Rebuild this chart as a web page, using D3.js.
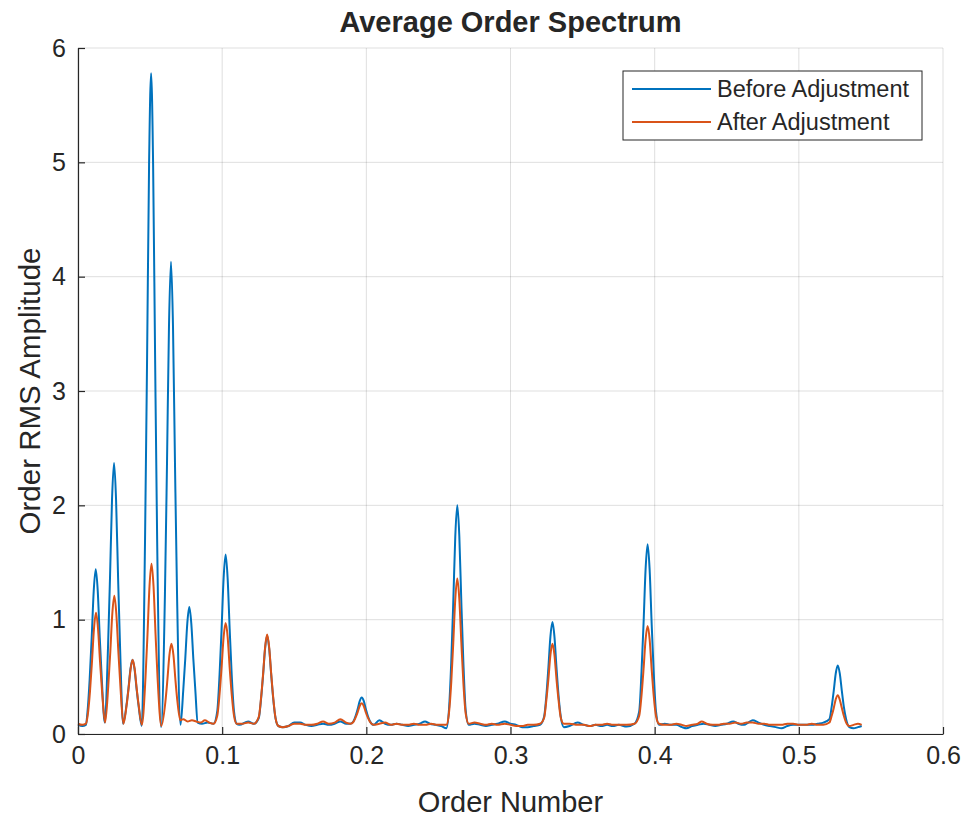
<!DOCTYPE html>
<html>
<head>
<meta charset="utf-8">
<script src="https://cdn.jsdelivr.net/npm/d3@7"></script>
<style>
  html, body { margin: 0; padding: 0; background: #ffffff; }
  svg { display: block; }
  text { font-family: "Liberation Sans", Arial, Helvetica, sans-serif; fill: #262626; }
</style>
</head>
<body>
<svg id="chart" width="966" height="817"></svg>
<script>
const titleText = "Average Order Spectrum";
const xLabelText = "Order Number";
const yLabelText = "Order RMS Amplitude";
const seriesNames = ["Before Adjustment", "After Adjustment"];
const xTicks = [0, 0.1, 0.2, 0.3, 0.4, 0.5, 0.6];
const yTicks = [0, 1, 2, 3, 4, 5, 6];

const beforeAdj = [
  [0,0.08],[0.003,0.07],[0.0055,0.08],
  [0.0065,0.18],[0.0081,0.48],[0.0095,0.842],[0.0109,1.25],[0.0123,1.44],[0.0137,1.25],[0.0151,0.842],[0.0165,0.48],[0.0186,0.10],
  [0.0208,0.75],[0.0222,1.367],[0.0236,2.051],[0.0250,2.37],[0.0264,2.05],[0.0278,1.37],[0.0292,0.75],[0.0313,0.09],
  [0.0336,0.25],[0.0350,0.40],[0.0364,0.57],[0.0378,0.65],[0.0392,0.57],[0.0406,0.40],[0.0420,0.25],[0.0442,0.07],
  [0.0465,1.70],[0.0479,3.268],[0.0493,4.98],[0.0507,5.78],[0.0521,4.98],[0.0535,3.27],[0.0549,1.70],[0.0576,0.06],
  [0.0603,1.22],[0.0617,2.339],[0.0631,3.56],[0.0645,4.13],[0.0659,3.56],[0.0673,2.34],[0.0687,1.22],[0.0711,0.08],
  [0.0730,0.38],[0.0744,0.657],[0.0758,0.966],[0.0772,1.11],[0.0786,0.966],[0.0800,0.657],[0.0814,0.38],[0.0830,0.10],
  [0.086,0.09],[0.090,0.10],[0.094,0.09],
  [0.0966,0.20],[0.0982,0.52],[0.0996,0.919],[0.1010,1.363],[0.1024,1.57],[0.1038,1.36],[0.1052,0.92],[0.1066,0.52],[0.1082,0.20],[0.1100,0.09],
  [0.112,0.08],[0.118,0.11],[0.122,0.09],
  [0.1254,0.14],[0.1270,0.31],[0.1284,0.517],[0.1298,0.751],[0.1312,0.86],[0.1326,0.75],[0.1340,0.52],[0.1354,0.31],[0.1370,0.14],[0.1390,0.07],
  [0.142,0.06],[0.146,0.07],[0.150,0.10],[0.154,0.10],[0.158,0.08],[0.162,0.07],[0.166,0.08],[0.170,0.09],[0.174,0.08],[0.178,0.09],[0.182,0.11],[0.186,0.09],[0.189,0.09],
  [0.1910,0.11],[0.1926,0.16],[0.1940,0.219],[0.1954,0.288],[0.1968,0.32],[0.1982,0.29],[0.1996,0.22],[0.2010,0.16],[0.2026,0.11],[0.205,0.08],
  [0.209,0.12],[0.213,0.09],[0.217,0.08],[0.221,0.09],[0.225,0.08],[0.229,0.07],[0.233,0.08],[0.237,0.09],[0.2407,0.11],[0.244,0.09],[0.248,0.08],[0.252,0.07],[0.2555,0.05],
  [0.2573,0.21],[0.2589,0.63],[0.2603,1.151],[0.2617,1.73],[0.2631,2.0],[0.2645,1.73],[0.2659,1.15],[0.2673,0.63],[0.2689,0.21],[0.271,0.08],
  [0.275,0.09],[0.279,0.08],[0.283,0.07],[0.287,0.08],[0.291,0.09],[0.296,0.11],[0.300,0.09],[0.304,0.08],[0.308,0.06],[0.312,0.06],[0.316,0.07],[0.3205,0.08],
  [0.3233,0.15],[0.3249,0.34],[0.3263,0.584],[0.3277,0.854],[0.3291,0.98],[0.3305,0.85],[0.3319,0.58],[0.3333,0.34],[0.3349,0.15],[0.337,0.06],
  [0.341,0.07],[0.3465,0.10],[0.351,0.08],[0.355,0.07],[0.359,0.08],[0.363,0.07],[0.367,0.08],[0.371,0.07],[0.375,0.08],[0.3806,0.065],[0.386,0.09],
  [0.3893,0.20],[0.3909,0.55],[0.3923,0.969],[0.3937,1.44],[0.3951,1.66],[0.3965,1.44],[0.3979,0.97],[0.3993,0.55],[0.4009,0.20],[0.403,0.08],
  [0.407,0.09],[0.411,0.08],[0.415,0.08],[0.419,0.06],[0.422,0.05],[0.426,0.07],[0.430,0.08],[0.434,0.09],[0.438,0.08],[0.442,0.07],[0.446,0.08],[0.450,0.09],[0.4545,0.11],[0.458,0.09],[0.462,0.08],[0.465,0.10],[0.468,0.12],[0.472,0.10],[0.476,0.08],[0.480,0.07],[0.484,0.06],[0.488,0.05],[0.492,0.07],[0.496,0.08],[0.5008,0.08],[0.505,0.08],[0.509,0.08],[0.513,0.09],[0.517,0.10],
  [0.5212,0.13],[0.5228,0.24],[0.5242,0.376],[0.5256,0.529],[0.5270,0.60],[0.5284,0.53],[0.5298,0.38],[0.5312,0.24],[0.5328,0.13],[0.535,0.06],
  [0.538,0.05],[0.541,0.06],[0.5436,0.07]
];

const afterAdj = [
  [0,0.09],[0.003,0.08],[0.0055,0.09],
  [0.0067,0.16],[0.0083,0.37],[0.0097,0.633],[0.0111,0.924],[0.0125,1.06],[0.0139,0.92],[0.0153,0.63],[0.0167,0.37],[0.0188,0.10],
  [0.0210,0.42],[0.0224,0.717],[0.0238,1.053],[0.0252,1.21],[0.0266,1.05],[0.0280,0.72],[0.0294,0.42],[0.0315,0.09],
  [0.0337,0.25],[0.0351,0.40],[0.0365,0.57],[0.0379,0.65],[0.0393,0.57],[0.0407,0.40],[0.0421,0.25],[0.0443,0.08],
  [0.0468,0.49],[0.0482,0.870],[0.0496,1.293],[0.0510,1.49],[0.0524,1.29],[0.0538,0.87],[0.0552,0.49],[0.0578,0.07],
  [0.0606,0.28],[0.0620,0.473],[0.0634,0.689],[0.0648,0.79],[0.0662,0.69],[0.0676,0.47],[0.0690,0.28],[0.0710,0.12],
  [0.073,0.13],[0.076,0.11],[0.079,0.12],[0.082,0.11],[0.085,0.10],[0.088,0.12],[0.091,0.10],[0.094,0.09],
  [0.0966,0.16],[0.0982,0.35],[0.0996,0.583],[0.1010,0.847],[0.1024,0.97],[0.1038,0.85],[0.1052,0.58],[0.1066,0.35],[0.1082,0.16],[0.1100,0.09],
  [0.114,0.09],[0.118,0.10],[0.122,0.09],
  [0.1254,0.15],[0.1270,0.32],[0.1284,0.527],[0.1298,0.761],[0.1312,0.87],[0.1326,0.76],[0.1340,0.53],[0.1354,0.32],[0.1370,0.14],[0.1390,0.07],
  [0.142,0.06],[0.146,0.07],[0.150,0.09],[0.154,0.09],[0.158,0.08],[0.162,0.08],[0.166,0.09],[0.170,0.11],[0.174,0.09],[0.178,0.10],[0.182,0.13],[0.186,0.10],[0.189,0.09],
  [0.1910,0.105],[0.1926,0.145],[0.1940,0.191],[0.1954,0.245],[0.1968,0.27],[0.1982,0.245],[0.1996,0.19],[0.2010,0.145],[0.2026,0.105],[0.205,0.08],
  [0.209,0.09],[0.213,0.10],[0.217,0.08],[0.221,0.09],[0.225,0.08],[0.229,0.08],[0.233,0.09],[0.237,0.08],[0.241,0.08],[0.245,0.09],[0.249,0.08],[0.253,0.08],[0.2555,0.08],
  [0.2573,0.18],[0.2589,0.45],[0.2603,0.797],[0.2617,1.181],[0.2631,1.36],[0.2645,1.18],[0.2659,0.80],[0.2673,0.45],[0.2689,0.18],[0.271,0.09],
  [0.275,0.10],[0.279,0.09],[0.283,0.08],[0.287,0.09],[0.291,0.08],[0.296,0.09],[0.300,0.08],[0.304,0.07],[0.308,0.07],[0.312,0.08],[0.316,0.08],[0.3205,0.09],
  [0.3233,0.14],[0.3249,0.30],[0.3263,0.482],[0.3277,0.692],[0.3291,0.79],[0.3305,0.69],[0.3319,0.48],[0.3333,0.30],[0.3349,0.14],[0.337,0.09],
  [0.341,0.09],[0.3465,0.08],[0.351,0.08],[0.355,0.07],[0.359,0.08],[0.363,0.08],[0.367,0.09],[0.371,0.08],[0.375,0.08],[0.3806,0.08],[0.386,0.09],
  [0.3893,0.16],[0.3909,0.34],[0.3923,0.569],[0.3937,0.825],[0.3951,0.945],[0.3965,0.83],[0.3979,0.57],[0.3993,0.34],[0.4009,0.16],[0.403,0.09],
  [0.407,0.08],[0.411,0.08],[0.415,0.09],[0.419,0.08],[0.422,0.07],[0.426,0.08],[0.430,0.09],[0.4326,0.11],[0.436,0.09],[0.440,0.08],[0.444,0.08],[0.448,0.09],[0.452,0.09],[0.456,0.10],[0.460,0.09],[0.464,0.10],[0.468,0.10],[0.472,0.09],[0.476,0.09],[0.480,0.08],[0.484,0.08],[0.488,0.08],[0.492,0.09],[0.496,0.09],[0.500,0.08],[0.505,0.08],[0.509,0.09],[0.513,0.08],[0.517,0.08],
  [0.5212,0.10],[0.5228,0.16],[0.5242,0.226],[0.5256,0.304],[0.5270,0.34],[0.5284,0.30],[0.5298,0.23],[0.5312,0.16],[0.5328,0.10],[0.535,0.07],
  [0.538,0.08],[0.541,0.09],[0.5436,0.08]
];

const colors = ["#0072BD", "#D95319"];

const W = 966, H = 817;
const margin = {left: 78, top: 48, right: 23, bottom: 83};
const iw = W - margin.left - margin.right;
const ih = H - margin.top - margin.bottom;

const svg = d3.select("#chart");
const g = svg.append("g").attr("transform", `translate(${margin.left},${margin.top})`);

const x = d3.scaleLinear().domain([0, 0.6]).range([0, iw]);
const y = d3.scaleLinear().domain([0, 6]).range([ih, 0]);

// grid
g.append("g").selectAll("line").data(xTicks).join("line")
  .attr("x1", d => x(d)).attr("x2", d => x(d)).attr("y1", 0).attr("y2", ih)
  .attr("stroke", "#262626").attr("stroke-opacity", 0.15).attr("stroke-width", 1);
g.append("g").selectAll("line").data(yTicks).join("line")
  .attr("x1", 0).attr("x2", iw).attr("y1", d => y(d)).attr("y2", d => y(d))
  .attr("stroke", "#262626").attr("stroke-opacity", 0.15).attr("stroke-width", 1);

// lines
const line = d3.line().x(d => x(d[0])).y(d => y(d[1])).curve(d3.curveMonotoneX);
const plot = g.append("g");
[beforeAdj, afterAdj].forEach((s, i) => {
  plot.append("path").datum(s).attr("d", line)
    .attr("fill", "none").attr("stroke", colors[i]).attr("stroke-width", 2)
    .attr("stroke-linejoin", "round");
});

// axes
const xAxis = d3.axisBottom(x).tickValues(xTicks).tickSizeInner(-7).tickSizeOuter(0).tickPadding(12)
  .tickFormat(d => d3.format("~g")(d));
const yAxis = d3.axisLeft(y).tickValues(yTicks).tickSizeInner(-7).tickSizeOuter(0).tickPadding(12)
  .tickFormat(d3.format("d"));

const gx = g.append("g").attr("transform", `translate(0,${ih})`).call(xAxis);
const gy = g.append("g").call(yAxis);
[gx, gy].forEach(a => {
  a.select(".domain").attr("stroke", "#262626").attr("stroke-width", 1.2);
  a.selectAll(".tick line").attr("stroke", "#262626").attr("stroke-width", 1.2);
  a.selectAll(".tick text").attr("fill", "#262626").style("font-size", "25px")
    .style("font-family", '"Liberation Sans", Arial, Helvetica, sans-serif');
});
gx.selectAll(".tick text").attr("dy", "0.71em").attr("y", 12);

// titles
svg.append("text").attr("x", margin.left + iw / 2).attr("y", 32)
  .attr("text-anchor", "middle").style("font-size", "29px").style("font-weight", "bold").text(titleText);
svg.append("text").attr("x", margin.left + iw / 2).attr("y", 812)
  .attr("text-anchor", "middle").style("font-size", "29px").text(xLabelText);
svg.append("text").attr("transform", `translate(40,${margin.top + ih / 2}) rotate(-90)`)
  .attr("text-anchor", "middle").style("font-size", "29.5px").text(yLabelText);

// legend
const lg = svg.append("g").attr("transform", "translate(623,71)");
lg.append("rect").attr("width", 299).attr("height", 69).attr("fill", "#ffffff")
  .attr("stroke", "#262626").attr("stroke-width", 1);
seriesNames.forEach((name, i) => {
  const ly = 18 + i * 33;
  lg.append("line").attr("x1", 9).attr("x2", 88).attr("y1", ly).attr("y2", ly)
    .attr("stroke", colors[i]).attr("stroke-width", 2);
  lg.append("text").attr("x", 94).attr("y", ly).attr("dy", "0.35em")
    .style("font-size", "23.5px").text(name);
});
</script>
</body>
</html>
